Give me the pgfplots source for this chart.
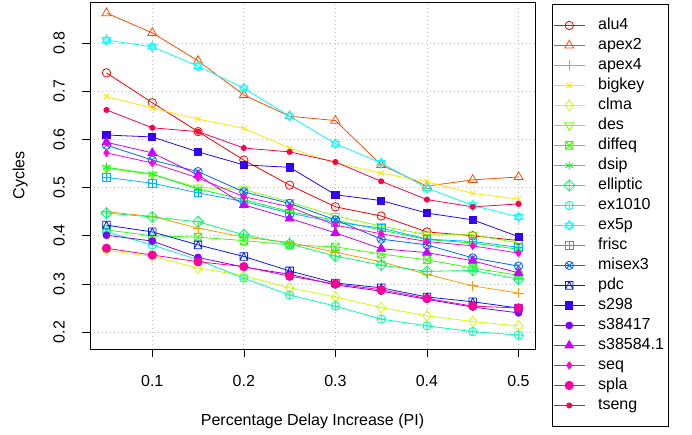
\documentclass[border=0pt]{standalone}
\usepackage{graphicx}
\usepackage{pgfplots}
\pgfplotsset{compat=1.18}
\usepackage{pgfplotstable}
\usepackage{fontspec}
\setmainfont{Liberation Sans}
\usetikzlibrary{plotmarks}

% R rainbow(20)
\definecolor{c01}{HTML}{FF0000}
\definecolor{c02}{HTML}{FF4D00}
\definecolor{c03}{HTML}{FF9900}
\definecolor{c04}{HTML}{FFE500}
\definecolor{c05}{HTML}{CCFF00}
\definecolor{c06}{HTML}{80FF00}
\definecolor{c07}{HTML}{33FF00}
\definecolor{c08}{HTML}{00FF19}
\definecolor{c09}{HTML}{00FF66}
\definecolor{c10}{HTML}{00FFB2}
\definecolor{c11}{HTML}{00FFFF}
\definecolor{c12}{HTML}{00B3FF}
\definecolor{c13}{HTML}{0066FF}
\definecolor{c14}{HTML}{001AFF}
\definecolor{c15}{HTML}{3300FF}
\definecolor{c16}{HTML}{7F00FF}
\definecolor{c17}{HTML}{CC00FF}
\definecolor{c18}{HTML}{FF00E6}
\definecolor{c19}{HTML}{FF0099}
\definecolor{c20}{HTML}{FF004D}

% R-like plotting symbols
\pgfdeclareplotmark{boxx}{%
  \pgfpathrectangle{\pgfpoint{-\pgfplotmarksize}{-\pgfplotmarksize}}{\pgfpoint{2\pgfplotmarksize}{2\pgfplotmarksize}}%
  \pgfpathmoveto{\pgfpoint{-\pgfplotmarksize}{-\pgfplotmarksize}}\pgfpathlineto{\pgfpoint{\pgfplotmarksize}{\pgfplotmarksize}}%
  \pgfpathmoveto{\pgfpoint{-\pgfplotmarksize}{\pgfplotmarksize}}\pgfpathlineto{\pgfpoint{\pgfplotmarksize}{-\pgfplotmarksize}}%
  \pgfusepathqstroke}
\pgfdeclareplotmark{boxplus}{%
  \pgfpathrectangle{\pgfpoint{-\pgfplotmarksize}{-\pgfplotmarksize}}{\pgfpoint{2\pgfplotmarksize}{2\pgfplotmarksize}}%
  \pgfpathmoveto{\pgfpoint{0pt}{-\pgfplotmarksize}}\pgfpathlineto{\pgfpoint{0pt}{\pgfplotmarksize}}%
  \pgfpathmoveto{\pgfpoint{-\pgfplotmarksize}{0pt}}\pgfpathlineto{\pgfpoint{\pgfplotmarksize}{0pt}}%
  \pgfusepathqstroke}
\pgfdeclareplotmark{boxtri}{%
  \pgfpathrectangle{\pgfpoint{-\pgfplotmarksize}{-\pgfplotmarksize}}{\pgfpoint{2\pgfplotmarksize}{2\pgfplotmarksize}}%
  \pgfpathmoveto{\pgfpoint{-\pgfplotmarksize}{-\pgfplotmarksize}}\pgfpathlineto{\pgfpoint{0pt}{\pgfplotmarksize}}%
  \pgfpathlineto{\pgfpoint{\pgfplotmarksize}{-\pgfplotmarksize}}%
  \pgfusepathqstroke}
\pgfdeclareplotmark{diamondplus}{%
  \pgfpathmoveto{\pgfpoint{0pt}{1.3\pgfplotmarksize}}\pgfpathlineto{\pgfpoint{1.3\pgfplotmarksize}{0pt}}%
  \pgfpathlineto{\pgfpoint{0pt}{-1.3\pgfplotmarksize}}\pgfpathlineto{\pgfpoint{-1.3\pgfplotmarksize}{0pt}}\pgfpathclose
  \pgfpathmoveto{\pgfpoint{0pt}{-1.3\pgfplotmarksize}}\pgfpathlineto{\pgfpoint{0pt}{1.3\pgfplotmarksize}}%
  \pgfpathmoveto{\pgfpoint{-1.3\pgfplotmarksize}{0pt}}\pgfpathlineto{\pgfpoint{1.3\pgfplotmarksize}{0pt}}%
  \pgfusepathqstroke}
\pgfdeclareplotmark{david}{%
  \pgfpathmoveto{\pgfpoint{0pt}{\pgfplotmarksize}}\pgfpathlineto{\pgfpoint{-0.866\pgfplotmarksize}{-0.5\pgfplotmarksize}}%
  \pgfpathlineto{\pgfpoint{0.866\pgfplotmarksize}{-0.5\pgfplotmarksize}}\pgfpathclose
  \pgfpathmoveto{\pgfpoint{0pt}{-\pgfplotmarksize}}\pgfpathlineto{\pgfpoint{0.866\pgfplotmarksize}{0.5\pgfplotmarksize}}%
  \pgfpathlineto{\pgfpoint{-0.866\pgfplotmarksize}{0.5\pgfplotmarksize}}\pgfpathclose
  \pgfusepathqstroke}

\pgfplotstableread{
x     alu4  apex2 apex4 bigkey clma  des   diffeq dsip  elliptic ex1010 ex5p  frisc misex3 pdc   s298  s38417 s38584 seq   spla  tseng
0.05  0.738 0.862 0.450 0.689  0.370 0.540 0.412  0.542 0.447    0.408  0.806 0.521 0.588  0.422 0.609 0.401  0.594  0.572 0.374 0.661
0.10  0.676 0.821 0.440 0.665  0.357 0.527 0.400  0.528 0.439    0.381  0.792 0.509 0.557  0.408 0.605 0.389  0.572  0.551 0.360 0.624
0.15  0.616 0.763 0.416 0.642  0.333 0.500 0.397  0.497 0.429    0.350  0.752 0.489 0.533  0.381 0.574 0.355  0.526  0.520 0.346 0.616
0.20  0.557 0.692 0.397 0.623  0.317 0.496 0.390  0.475 0.402    0.312  0.706 0.471 0.491  0.357 0.547 0.335  0.464  0.481 0.336 0.582
0.25  0.505 0.648 0.386 0.582  0.292 0.470 0.381  0.450 0.383    0.277  0.648 0.447 0.467  0.327 0.542 0.320  0.436  0.460 0.316 0.574
0.30  0.460 0.639 0.366 0.551  0.273 0.441 0.377  0.432 0.358    0.254  0.591 0.428 0.433  0.302 0.485 0.298  0.406  0.422 0.300 0.553
0.35  0.441 0.547 0.346 0.530  0.251 0.420 0.362  0.412 0.339    0.227  0.551 0.416 0.393  0.292 0.473 0.285  0.373  0.404 0.288 0.513
0.40  0.408 0.503 0.320 0.512  0.234 0.402 0.350  0.392 0.326    0.213  0.499 0.393 0.381  0.273 0.447 0.268  0.365  0.388 0.270 0.475
0.45  0.400 0.516 0.296 0.488  0.222 0.402 0.333  0.385 0.328    0.201  0.463 0.388 0.354  0.263 0.433 0.252  0.348  0.379 0.254 0.460
0.50  0.390 0.522 0.281 0.476  0.213 0.385 0.318  0.372 0.310    0.194  0.439 0.376 0.337  0.250 0.398 0.240  0.323  0.364 0.250 0.466
}\data

\begin{document}
\begin{tikzpicture}[font=\fontsize{16}{19}\selectfont]
\path[use as bounding box] (0,0) rectangle (692pt,434pt);
\begin{axis}[
    at={(90pt,85pt)}, anchor=south west,
    scale only axis, width=445pt, height=347pt,
    xmin=0.032, xmax=0.518, ymin=0.165, ymax=0.885,
    xtick={0.1,0.2,0.3,0.4,0.5},
    ytick={0.2,0.3,0.4,0.5,0.6,0.7,0.8},
    /pgf/number format/assume math mode=true,
    /pgf/number format/fixed, /pgf/number format/precision=1,
    tick align=outside, major tick length=8pt,
    xtick pos=bottom, ytick pos=left,
    tick style={black, line width=0.6pt},
    axis line style={black, line width=0.7pt},
    grid=major,
    major grid style={draw=lightgray, line width=0.7pt, dash pattern=on 1pt off 3pt},
    yticklabel={\rotatebox{90}{\axisdefaultticklabel}},
    yticklabel style={anchor=east, inner xsep=17pt},
    xticklabel style={yshift=-15pt},
    xlabel={Percentage Delay Increase (PI)},
    ylabel={Cycles},
    xlabel style={at={(axis description cs:0.5,-0.2075)}, anchor=center},
    ylabel style={at={(axis description cs:-0.157,0.5)}, anchor=center},
    every axis plot/.append style={line width=0.8pt},
    legend cell align=left,
    legend image code/.code={\draw[mark repeat=2,mark phase=2,#1] plot coordinates {(0pt,0pt) (15.5pt,0pt) (31pt,0pt)};},
    legend style={at={(axis description cs:1.0382,0.994)}, anchor=north west,
        draw=black, line width=0.7pt, inner xsep=1pt, inner ysep=11pt,
        row sep=0pt,
        /tikz/every odd column/.append style={column sep=10pt},
        nodes={text height=12pt, text depth=4pt, inner ysep=2pt, inner xsep=3pt}},
]
\addplot[c01, mark=o, mark size=4.2pt] table[x=x,y=alu4] {\data};
\addlegendentry{alu4}
\addplot[c02, mark=triangle, mark size=5.2pt] table[x=x,y=apex2] {\data};
\addlegendentry{apex2}
\addplot[c03, mark=+, mark size=5pt] table[x=x,y=apex4] {\data};
\addlegendentry{apex4}
\addplot[c04, mark=x, mark size=4pt] table[x=x,y=bigkey] {\data};
\addlegendentry{bigkey}
\addplot[c05, mark=diamond, mark size=5.4pt] table[x=x,y=clma] {\data};
\addlegendentry{clma}
\addplot[c06, mark=triangle, mark size=5.2pt, mark options={rotate=180}] table[x=x,y=des] {\data};
\addlegendentry{des}
\addplot[c07, mark=boxx, mark size=3.8pt] table[x=x,y=diffeq] {\data};
\addlegendentry{diffeq}
\addplot[c08, mark=asterisk, mark size=4.5pt] table[x=x,y=dsip] {\data};
\addlegendentry{dsip}
\addplot[c09, mark=diamondplus, mark size=4.2pt] table[x=x,y=elliptic] {\data};
\addlegendentry{elliptic}
\addplot[c10, mark=oplus, mark size=4.2pt] table[x=x,y=ex1010] {\data};
\addlegendentry{ex1010}
\addplot[c11, mark=david, mark size=5pt] table[x=x,y=ex5p] {\data};
\addlegendentry{ex5p}
\addplot[c12, mark=boxplus, mark size=3.8pt] table[x=x,y=frisc] {\data};
\addlegendentry{frisc}
\addplot[c13, mark=otimes, mark size=4.2pt] table[x=x,y=misex3] {\data};
\addlegendentry{misex3}
\addplot[c14, mark=boxtri, mark size=3.8pt] table[x=x,y=pdc] {\data};
\addlegendentry{pdc}
\addplot[c15, mark=square*, mark size=3.6pt] table[x=x,y=s298] {\data};
\addlegendentry{s298}
\addplot[c16, mark=*, mark size=3.4pt] table[x=x,y=s38417] {\data};
\addlegendentry{s38417}
\addplot[c17, mark=triangle*, mark size=5pt] table[x=x,y=s38584] {\data};
\addlegendentry{s38584.1}
\addplot[c18, mark=diamond*, mark size=3.6pt] table[x=x,y=seq] {\data};
\addlegendentry{seq}
\addplot[c19, mark=*, mark size=4.2pt] table[x=x,y=spla] {\data};
\addlegendentry{spla}
\addplot[c20, mark=*, mark size=2.6pt] table[x=x,y=tseng] {\data};
\addlegendentry{tseng}
\end{axis}
\end{tikzpicture}
\end{document}
